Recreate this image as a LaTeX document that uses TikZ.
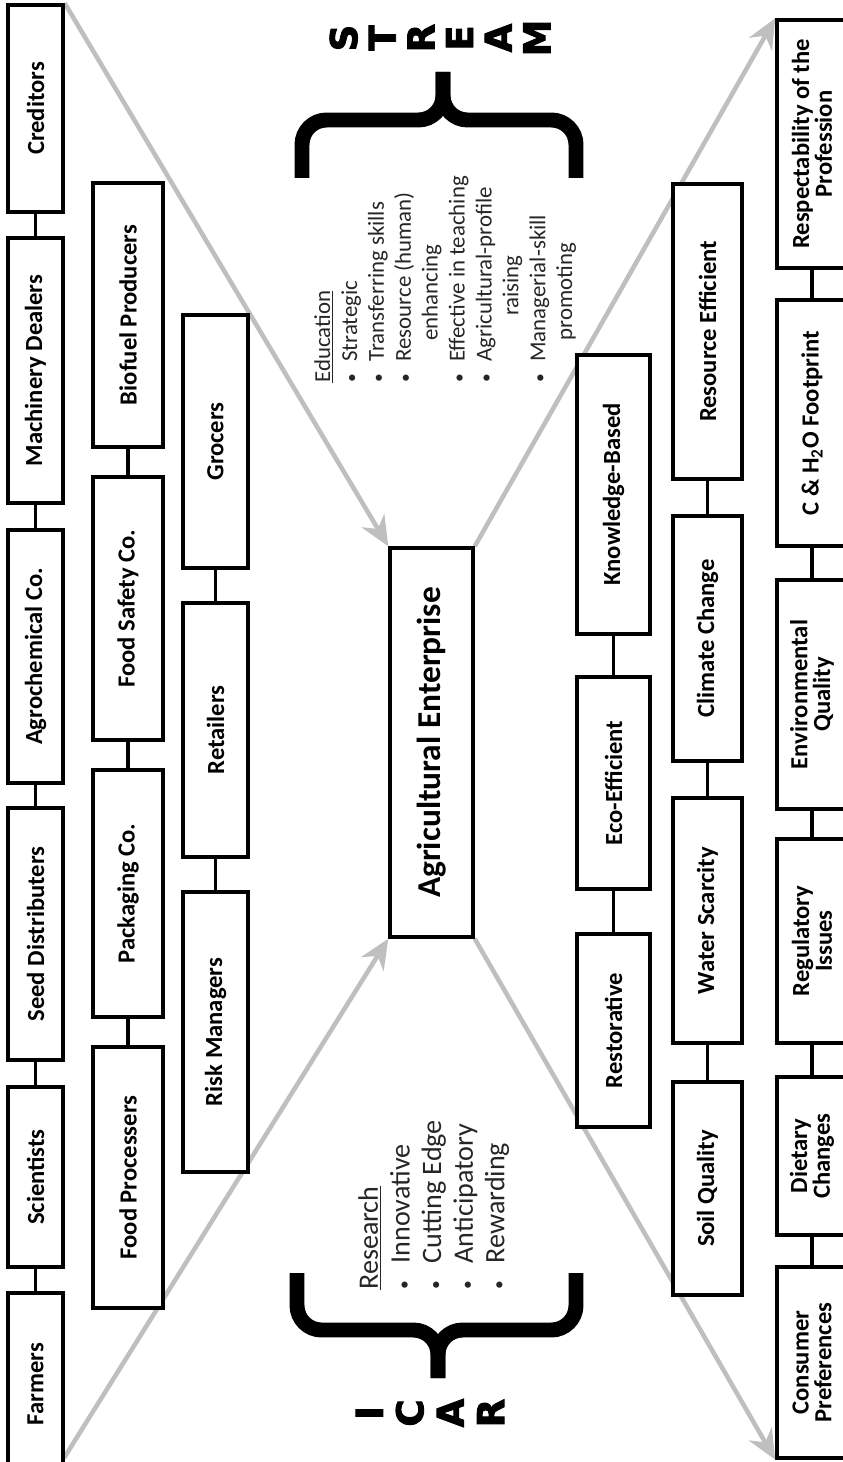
\documentclass[tikz,border=0pt]{standalone}
\usepackage{fontspec}
\setmainfont{Carlito}
\newfontfamily\heavyfont{DejaVu Sans}[BoldFeatures={FakeBold=2.5}]
\usetikzlibrary{arrows.meta,backgrounds}

\newcommand{\dotitem}[1]{\makebox[#1][l]{\fontsize{10}{10}\selectfont\textbullet}}

\tikzset{
  unit/.style={draw, line width=2pt, fill=white, rotate=90, inner sep=2pt,
    align=center, font=\fontsize{14}{13}\selectfont\bfseries},
  col1/.style={unit, minimum height=1.10cm},
  col2/.style={unit, minimum height=1.40cm},
  col3/.style={unit, minimum height=1.30cm},
  colA/.style={unit, minimum height=1.46cm},
  colB/.style={unit, minimum height=1.38cm},
  colC/.style={unit, minimum height=1.40cm},
  link/.style={line width=2.2pt},
  flow/.style={draw=black!25, line width=2.6pt, -{Stealth[length=17pt,width=15pt]}},
  brace/.style={line width=8.5pt, rounded corners=14pt},
  letters/.style={rotate=90, align=center, font=\heavyfont\bfseries\fontsize{21}{22}\selectfont},
  notes/.style={rotate=90, anchor=north west, align=left, inner sep=0pt, text=black!85},
}

\begin{document}
\begin{tikzpicture}[x=0.02cm, y=-0.02cm]
  \useasboundingbox (0,0) rectangle (842,1462);

  % suppliers and services
  \node[col1, minimum width=4.14cm] (creditors) at (35.5,108.5) {Creditors};
  \node[col1, minimum width=5.30cm] (machinery) at (35.5,370.5) {Machinery Dealers};
  \node[col1, minimum width=5.06cm] (agrochem) at (35.5,656.5) {Agrochemical Co.};
  \node[col1, minimum width=5.04cm] (seed) at (35.5,934) {Seed Distributers};
  \node[col1, minimum width=3.60cm] (scientists) at (35.5,1177) {Scientists};
  \node[col1, minimum width=3.64cm] (farmers) at (35.5,1384) {Farmers};

  \node[col2, minimum width=5.28cm] (biofuel) at (128,315) {Biofuel Producers};
  \node[col2, minimum width=5.26cm] (foodsafety) at (128,608.5) {Food Safety Co.};
  \node[col2, minimum width=4.94cm] (packaging) at (128,893.5) {Packaging Co.};
  \node[col2, minimum width=5.22cm] (processers) at (128,1177.5) {Food Processers};

  \node[col3, minimum width=5.06cm] (grocers) at (215.5,441.5) {Grocers};
  \node[col3, minimum width=5.08cm] (retailers) at (215.5,730) {Retailers};
  \node[col3, minimum width=5.60cm] (risk) at (215.5,1032) {Risk Managers};

  % enterprise
  \node[unit, minimum height=1.66cm, minimum width=7.78cm,
    font=\fontsize{19}{21}\selectfont\bfseries] (enterprise) at (431.5,742.5) {Agricultural Enterprise};

  % goals, challenges and outcomes
  \node[colA, minimum width=5.58cm] (knowledge) at (613.5,494.5) {Knowledge-Based};
  \node[colA, minimum width=4.24cm] (eco) at (613.5,783) {Eco-Efficient};
  \node[colA, minimum width=3.86cm] (restorative) at (613.5,1030.5) {Restorative};

  \node[colB, minimum width=5.90cm] (resource) at (707.5,331.5) {Resource Efficient};
  \node[colB, minimum width=4.90cm] (climate) at (707.5,638.5) {Climate Change};
  \node[colB, minimum width=4.90cm] (water) at (707.5,920.5) {Water Scarcity};
  \node[colB, minimum width=4.26cm] (soil) at (707.5,1188.5) {Soil Quality};

  \node[colC, minimum width=4.96cm] (respect) at (812,144) {Respectability of the\\Profession};
  \node[colC, minimum width=4.92cm] (footprint) at (812,423) {C \& H\textsubscript{2}O Footprint};
  \node[colC, minimum width=4.58cm] (envqual) at (812,694.5) {Environmental\\Quality};
  \node[colC, minimum width=4.08cm] (regulatory) at (812,941) {Regulatory\\Issues};
  \node[colC, minimum width=3.16cm] (dietary) at (812,1156) {Dietary\\Changes};
  \node[colC, minimum width=3.82cm] (consumer) at (812,1362.5) {Consumer\\Preferences};

  \draw[link] (creditors) -- (machinery);
  \draw[link] (machinery) -- (agrochem);
  \draw[link] (agrochem) -- (seed);
  \draw[link] (seed) -- (scientists);
  \draw[link] (scientists) -- (farmers);
  \draw[link] (biofuel) -- (foodsafety);
  \draw[link] (foodsafety) -- (packaging);
  \draw[link] (packaging) -- (processers);
  \draw[link] (grocers) -- (retailers);
  \draw[link] (retailers) -- (risk);
  \draw[link] (knowledge) -- (eco);
  \draw[link] (eco) -- (restorative);
  \draw[link] (resource) -- (climate);
  \draw[link] (climate) -- (water);
  \draw[link] (water) -- (soil);
  \draw[link] (respect) -- (footprint);
  \draw[link] (footprint) -- (envqual);
  \draw[link] (envqual) -- (regulatory);
  \draw[link] (regulatory) -- (dietary);
  \draw[link] (dietary) -- (consumer);

  % big grey arrows through the enterprise
  \coordinate (farmfoot) at (64,1458);
  \begin{scope}[on background layer]
    \draw[flow] (creditors.south east) -- (enterprise.north east);
    \draw[flow] (farmfoot) -- (enterprise.north west);
    \draw[flow] (enterprise.south east) -- (respect.north east);
    \draw[flow] (enterprise.south west) -- (consumer.north west);
  \end{scope}

  % education
  \node[letters] (stream) at (440,38) {S\\T\\R\\E\\A\\M};
  \draw[brace] (302,178) |- (443,120) -- (443,72);
  \draw[brace] (576,178) |- (443,120) -- (443,72);
  \node[notes, font=\fontsize{13}{15.3}\selectfont] (education) at (314,383) {%
    \underline{Education}\\
    \dotitem{12pt}Strategic\\
    \dotitem{12pt}Transferring skills\\
    \dotitem{12pt}Resource (human)\\
    \hspace{24pt}enhancing\\
    \dotitem{12pt}Effective in teaching\\
    \dotitem{12pt}Agricultural-profile\\
    \hspace{38pt}raising\\
    \dotitem{12pt}Managerial-skill\\
    \hspace{24pt}promoting};

  % research
  \node[letters, font=\heavyfont\bfseries\fontsize{21}{23}\selectfont] (icar) at (430,1413) {I\\C\\A\\R};
  \draw[brace] (297,1273) |- (438,1330) -- (438,1378);
  \draw[brace] (576,1273) |- (438,1330) -- (438,1378);
  \node[notes, font=\fontsize{16}{18}\selectfont] (research) at (358,1290) {%
    \underline{Research}\\
    \dotitem{15pt}Innovative\\
    \dotitem{15pt}Cutting Edge\\
    \dotitem{15pt}Anticipatory\\
    \dotitem{15pt}Rewarding};
\end{tikzpicture}
\end{document}
